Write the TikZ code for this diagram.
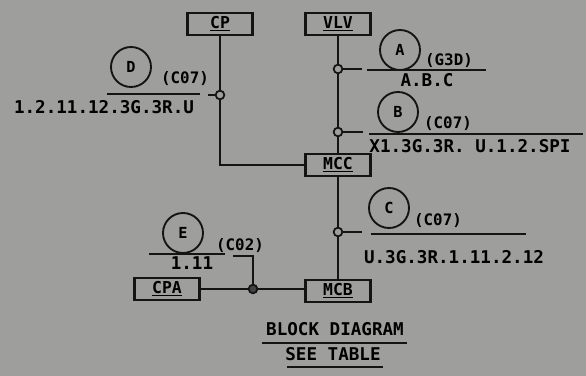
\documentclass[tikz,border=0pt]{standalone}
\usepackage{fontspec}
\newfontfamily\letterfont{DejaVu Sans Mono}
\definecolor{papergray}{RGB}{158, 158, 156}
\definecolor{inkblack}{RGB}{20, 20, 20}
\usetikzlibrary{positioning, calc}

\begin{document}
\begin{tikzpicture}[x=0.03cm, y=-0.03cm, line width=1.8pt, draw=inkblack,
    blockbox/.style={draw=inkblack, minimum width=1.95cm, minimum height=0.64cm, inner sep=0pt, font=\letterfont\bfseries\fontsize{14}{14}\selectfont},
    tapdot/.style={circle, draw=inkblack, fill=papergray, line width=1.5pt, minimum size=0.26cm, inner sep=0pt},
    tagcircle/.style={circle, draw=inkblack, line width=1.6pt, minimum size=1.2cm, inner sep=0pt, font=\letterfont\bfseries\fontsize{13}{13}\selectfont},
    cable/.style={inner sep=0pt, font=\letterfont\bfseries\fontsize{13.5}{13.5}\selectfont},
    wirelist/.style={inner sep=0pt, font=\letterfont\bfseries\fontsize{15}{15}\selectfont}]
  \fill[papergray] (0,0) rectangle (586,376);

  \node[blockbox] (cp)  at (220,24) {\underline{CP}};
  \node[blockbox] (vlv) at (338,24) {\underline{VLV}};
  \node[blockbox] (mcc) at (338,165) {\underline{MCC}};
  \node[blockbox] (mcb) at (338,291) {\underline{MCB}};
  \node[blockbox] (cpa) at (167,289) {\underline{CPA}};

  \draw (cp.south) |- (mcc.west);
  \draw (vlv.south) -- (mcc.north);
  \draw (mcc.south) -- (mcb.north);
  \draw (cpa.east) -- (mcb.west |- cpa.east);

  \node[tapdot] (jd) at (220,95) {};
  \node[tapdot] (ja) at (338,69) {};
  \node[tapdot] (jb) at (338,132) {};
  \node[tapdot] (jc) at (338,232) {};
  \node[tapdot, fill=inkblack!80] (je) at (253,289) {};

  \coordinate (sd) at (208,95);
  \coordinate (sa) at (362,69);
  \coordinate (sb) at (363,132);
  \coordinate (sc) at (362,232);
  \coordinate (se1) at (253,256);
  \coordinate (se2) at (233,256);
  \draw (jd.west) -- (sd);
  \draw (ja.east) -- (sa);
  \draw (jb.east) -- (sb);
  \draw (jc.east) -- (sc);
  \draw (je.north) -- (se1) -- (se2);

  \coordinate (ld1) at (107,94);  \coordinate (ld2) at (200,94);
  \coordinate (la1) at (367,70);  \coordinate (la2) at (486,70);
  \coordinate (lb1) at (369,134); \coordinate (lb2) at (583,134);
  \coordinate (lc1) at (371,234); \coordinate (lc2) at (526,234);
  \coordinate (le1) at (149,254); \coordinate (le2) at (225,254);
  \draw (ld1) -- (ld2);
  \draw (la1) -- (la2);
  \draw (lb1) -- (lb2);
  \draw (lc1) -- (lc2);
  \draw (le1) -- (le2);

  \node[tagcircle] (tagd) at (131,67) {D};
  \node[tagcircle] (taga) at (400,50) {A};
  \node[tagcircle] (tagb) at (398,112) {B};
  \node[tagcircle] (tagc) at (389,208) {C};
  \node[tagcircle] (tage) at (183,233) {E};

  \node[cable] (cabd) at (185,79) {(C07)};
  \node[cable] (caba) at (449,61) {(G3D)};
  \node[cable] (cabb) at (448,124) {(C07)};
  \node[cable] (cabc) at (438,221) {(C07)};
  \node[cable] (cabe) at (240,246) {(C02)};

  \node[wirelist] (wd) at (104,107) {1.2.11.12.3G.3R.U};
  \node[wirelist] (wa) at (427,80) {A.B.C};
  \node[wirelist] (wb) at (470,146) {X1.3G.3R. U.1.2.SPI};
  \node[wirelist] (wc) at (454,257) {U.3G.3R.1.11.2.12};
  \node[wirelist] (we) at (192,263) {1.11};

  \node[wirelist] (title) at (335,329) {BLOCK DIAGRAM};
  \node[wirelist] (note) at (333,354) {SEE TABLE};
  \coordinate (t1) at (262,343); \coordinate (t2) at (407,343);
  \coordinate (n1) at (287,367); \coordinate (n2) at (383,367);
  \draw (t1) -- (t2);
  \draw (n1) -- (n2);
\end{tikzpicture}
\end{document}
